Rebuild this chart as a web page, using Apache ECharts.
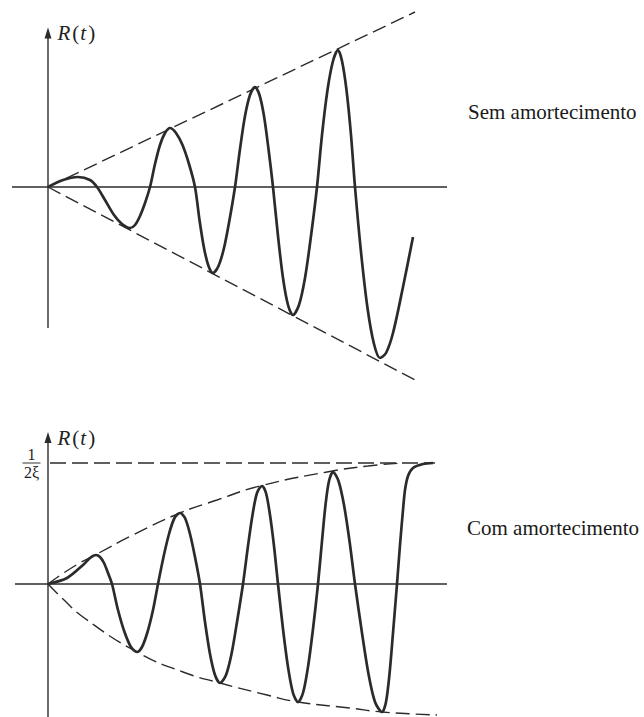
<!DOCTYPE html>
<html>
<head>
<meta charset="utf-8">
<script src="https://cdn.jsdelivr.net/npm/echarts@6/dist/echarts.min.js"></script>
<style>
html,body{margin:0;padding:0;background:#fff;}
#c{width:644px;height:717px;}
</style>
</head>
<body>
<div id="c"></div>
<script>
// ---------- DATA (t, R) ----------
// Upper plot: undamped
const topCurve = [[0,0],[1.5,0.7],[3.0,1.0],[4.2,0.7],[4.9,0],
  [5.7,-1.3],[6.6,-2.8],[7.4,-3.7],[8.2,-4.1],
  [8.7,-3.8],[9.2,-2.9],[9.7,-1.6],[10.2,0],
  [10.7,2.3],[11.2,4.2],[11.7,5.4],[12.2,5.9],
  [12.8,5.4],[13.45,4.2],[14.1,2.3],[14.7,0],
  [15.15,-3.3],[15.6,-6.1],[16.05,-7.9],[16.5,-8.6],
  [17.05,-7.9],[17.6,-6.1],[18.15,-3.3],[18.7,0],
  [19.2,3.8],[19.7,7.1],[20.2,9.2],[20.7,10.0],
  [21.15,9.2],[21.6,7.1],[22.05,3.8],[22.5,0],
  [23.0,-4.9],[23.5,-9.1],[24.0,-11.8],[24.5,-12.8],
  [25.1,-11.8],[25.7,-9.1],[26.3,-4.9],[26.9,0],
  [27.4,5.2],[27.95,9.7],[28.5,12.6],[29.0,13.7],
  [29.4,12.6],[29.85,9.7],[30.3,5.2],[30.7,0],
  [31.3,-6.5],[31.95,-12.1],[32.6,-15.7],[33.2,-17.1],
  [33.8,-16.6],[34.5,-14.6],[35.5,-10.0],[36.5,-5.0]];
const topEnvUpper = [[0,0],[36.7,17.5]];
const topEnvLower = [[0,0],[36.9,-19.4]];
const topAxisX = [[-3.6,0],[39.9,0]];
const topAxisY = [[0,-14.1],[0,15.4]];

// Lower plot: damped
const botCurve = [[0,0],[1.9,0.6],[3.5,1.9],[4.2,2.6],[4.8,2.9],
  [5.2,2.7],[5.6,2.1],[6.0,1.1],[6.4,0],
  [7.0,-2.6],[7.65,-4.8],[8.3,-6.3],[8.9,-6.8],
  [9.4,-6.3],[9.95,-4.8],[10.5,-2.6],[11.0,0],
  [11.55,2.7],[12.1,5.0],[12.65,6.6],[13.2,7.1],
  [13.7,6.6],[14.2,5.0],[14.7,2.7],[15.2,0],
  [15.7,-3.8],[16.2,-7.0],[16.7,-9.1],[17.2,-9.9],
  [17.8,-9.1],[18.35,-7.0],[18.9,-3.8],[19.5,0],
  [20.0,3.8],[20.45,6.9],[20.9,9.1],[21.4,9.8],
  [21.8,9.1],[22.2,6.9],[22.6,3.8],[23.0,0],
  [23.5,-4.5],[24.0,-8.3],[24.5,-10.9],[25.0,-11.8],
  [25.5,-10.9],[26.0,-8.3],[26.5,-4.5],[27.0,0],
  [27.4,4.3],[27.75,7.9],[28.1,10.3],[28.5,11.2],
  [29.05,10.3],[29.6,7.9],[30.15,4.3],[30.7,0],
  [31.4,-4.9],[32.05,-9.0],[32.7,-11.8],[33.4,-12.8],
  [33.8,-11.8],[34.15,-9.0],[34.5,-4.9],[34.9,0],
  [35.2,3.9],[35.5,7.4],[35.7,9.4],[36.0,10.8],[36.5,11.6],[37.5,12.0],[38.5,12.1]];
const botEnvUpper = [[0,0],[2.5,1.7],[4.9,3.0],[8.5,4.9],[13.2,7.1],[16.9,8.4],[21.2,9.8],[27.9,11.2],[32.0,11.8],[35.5,12.1]];
const botEnvLower = [[0,0],[1.5,-1.5],[3.5,-3.3],[8.9,-6.8],[13.5,-8.8],[17.2,-9.9],[21.9,-11.1],[25.0,-11.8],[30.2,-12.4],[33.4,-12.8],[38.9,-13.1]];
const botAsymptote = [[0.2,12.1],[38.7,12.1]];
const botAxisX = [[-3.3,0],[39.9,0]];
const botAxisY = [[0,-13.3],[0,14.65]];

const labelTop = 'Sem amortecimento';
const labelBot = 'Com amortecimento';

// ---------- CHART ----------
const ink = '#2b2b2b';
const serif = '"Liberation Serif","DejaVu Serif","Times New Roman",serif';
const chart = echarts.init(document.getElementById('c'), null, {renderer:'svg'});

function line(gi, data, opt) {
  return Object.assign({
    type:'line', xAxisIndex:gi, yAxisIndex:gi, data:data,
    symbol:'none', silent:true, animation:false,
    lineStyle:{color:ink, width:1.4}
  }, opt || {});
}
function dashed(gi, data, smooth) {
  return line(gi, data, {smooth: smooth ? 0.5 : false, lineStyle:{color:ink, width:1.4, type:[14,6]}});
}
function yAxisLine(gi, data) {
  const pts = data.map((p,i)=> i === data.length-1
    ? {value:p, symbol:'triangle', symbolSize:[7,11], itemStyle:{color:ink},
       label:{show:true, position:'right', distance:6, formatter:'{i|R}{p|(}{i|t}{p|)}',
              rich:{i:{fontStyle:'italic', fontFamily:serif, fontSize:21, color:'#222', padding:[0,1,0,0]},
                    p:{fontFamily:serif, fontSize:21, color:'#222', padding:[0,1,0,1]}}}}
    : {value:p, symbol:'none'});
  return line(gi, pts, {showSymbol:true, symbol:'none'});
}

const option = {
  backgroundColor:'#fff',
  animation:false,
  grid:[
    {left:8, width:440, top:10, height:380},
    {left:8, width:440, top:420, height:297}
  ],
  xAxis:[
    {type:'value', gridIndex:0, min:-4, max:40, show:false},
    {type:'value', gridIndex:1, min:-4, max:40, show:false}
  ],
  yAxis:[
    {type:'value', gridIndex:0, min:-20.3, max:17.7, show:false},
    {type:'value', gridIndex:1, min:-13.3, max:16.4, show:false}
  ],
  graphic:[
    {type:'text', left:468, top:101, style:{text:labelTop, font:'21px '+serif, fill:'#1a1a1a'}},
    {type:'text', left:467, top:517, style:{text:labelBot, font:'21px '+serif, fill:'#1a1a1a'}}
  ],
  series:[
    // upper plot
    line(0, topAxisX),
    yAxisLine(0, topAxisY),
    dashed(0, topEnvUpper),
    dashed(0, topEnvLower),
    line(0, topCurve, {smooth:0.3, lineStyle:{color:ink, width:2.7}}),
    // lower plot
    line(1, botAxisX),
    yAxisLine(1, botAxisY),
    line(1, botAsymptote.map((p,i)=> i===0 ? {value:p, symbol:'circle', symbolSize:1,
        itemStyle:{color:'rgba(0,0,0,0)'},
        label:{show:true, position:'left', distance:9, fontSize:16, fontFamily:serif,
          formatter:'{n|1}\n{bar|}\n{n|2ξ}',
          rich:{n:{fontFamily:serif, fontSize:16, color:'#222', align:'center', lineHeight:14},
                bar:{width:18, height:1, backgroundColor:'#333', lineHeight:4, align:'center'}}}}
      : {value:p, symbol:'none'}), {showSymbol:true, symbol:'none', lineStyle:{color:ink, width:1.4, type:[16,6]}}),
    dashed(1, botEnvUpper, true),
    dashed(1, botEnvLower, true),
    line(1, botCurve, {smooth:0.3, lineStyle:{color:ink, width:2.7}})
  ]
};
chart.setOption(option);
</script>
</body>
</html>
